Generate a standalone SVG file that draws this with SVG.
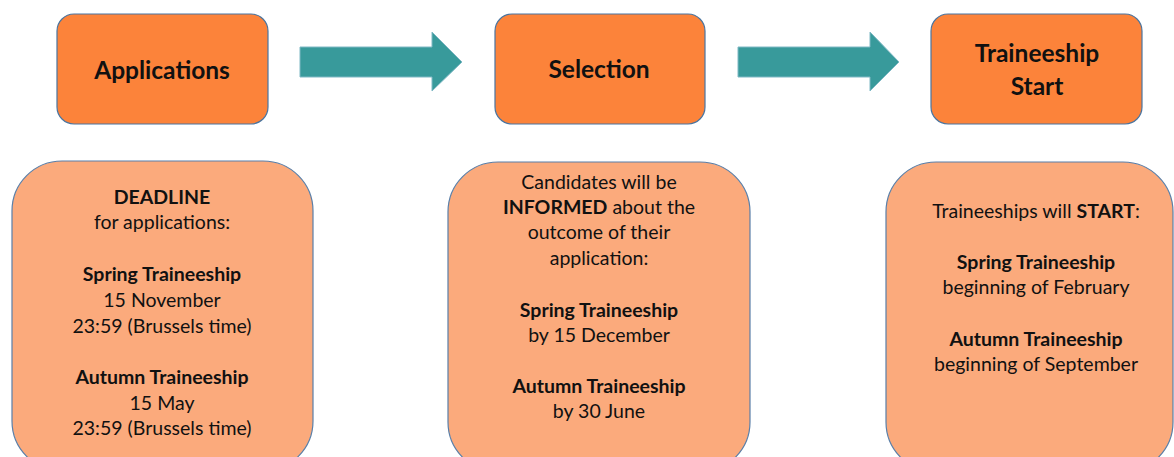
<svg xmlns="http://www.w3.org/2000/svg" width="1174" height="457" viewBox="0 0 1174 457">
<style>
.top{fill:#FC833A;stroke:#4A75A0;stroke-width:1.2}
.low{fill:#FBAA7C;stroke:#5A7FA8;stroke-width:1.2}
.arr{fill:#389A9B;stroke:#7FB8C4;stroke-width:1}
text{font-family:Lato,"Open Sans",sans-serif;fill:#111;text-anchor:middle}
.h{font-size:24.5px;font-weight:bold}
.b{font-size:19.5px}
.bb{font-weight:bold}
</style>
<rect width="1174" height="457" fill="#fff"/>
<g id="applications"><rect class="top" x="57" y="14" width="211" height="110" rx="17"/><text class="h" x="162" y="79">Applications</text></g>
<g id="selection"><rect class="top" x="495" y="14" width="210" height="110" rx="17"/><text class="h" x="599" y="78">Selection</text></g>
<g id="start"><rect class="top" x="931" y="14" width="211" height="110" rx="17"/><text class="h" x="1037" y="62">Traineeship</text><text class="h" x="1037" y="95">Start</text></g>
<g id="connectors">
<path class="arr" d="M300,47 H432 V32 L462,62 L432,91 V77 H300 Z"/>
<path class="arr" d="M738,47 H870 V32 L899,62 L870,91 V77 H738 Z"/>
</g>
<g id="deadline"><rect class="low" x="12" y="161" width="301" height="310" rx="50"/>
<text class="b"><tspan class="bb" x="162" y="204">DEADLINE</tspan><tspan x="162" y="229">for applications:</tspan><tspan class="bb" x="162" y="281">Spring Traineeship</tspan><tspan x="162" y="307">15 November</tspan><tspan x="162" y="333">23:59 (Brussels time)</tspan><tspan class="bb" x="162" y="384">Autumn Traineeship</tspan><tspan x="162" y="410">15 May</tspan><tspan x="162" y="435">23:59 (Brussels time)</tspan></text></g>
<g id="informed"><rect class="low" x="448" y="162" width="302" height="310" rx="50"/>
<text class="b"><tspan x="599" y="189">Candidates will be</tspan><tspan x="599" y="214"><tspan class="bb">INFORMED</tspan> about the</tspan><tspan x="599" y="239">outcome of their</tspan><tspan x="599" y="265">application:</tspan><tspan class="bb" x="599" y="317">Spring Traineeship</tspan><tspan x="599" y="342">by 15 December</tspan><tspan class="bb" x="599" y="393">Autumn Traineeship</tspan><tspan x="599" y="418">by 30 June</tspan></text></g>
<g id="traineeships"><rect class="low" x="886" y="162" width="287" height="310" rx="50"/>
<text class="b"><tspan x="1036" y="218">Traineeships will <tspan class="bb">START</tspan>:</tspan><tspan class="bb" x="1036" y="269">Spring Traineeship</tspan><tspan x="1036" y="294">beginning of February</tspan><tspan class="bb" x="1036" y="346">Autumn Traineeship</tspan><tspan x="1036" y="371">beginning of September</tspan></text></g>
</svg>
